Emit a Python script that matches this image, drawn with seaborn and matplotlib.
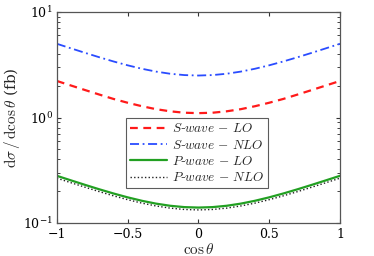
import numpy as np
import pandas as pd
import seaborn as sns
import matplotlib
matplotlib.use('Agg')
import matplotlib.pyplot as plt

# cos(theta) grid
cos_theta = [-1.0, -0.9, -0.8, -0.7, -0.6, -0.5, -0.4, -0.3, -0.2, -0.1, 0.0,
             0.1, 0.2, 0.3, 0.4, 0.5, 0.6, 0.7, 0.8, 0.9, 1.0]

s_lo = [2.22, 2.01, 1.82, 1.65, 1.50, 1.38, 1.28, 1.20, 1.145, 1.11, 1.10,
        1.11, 1.145, 1.20, 1.28, 1.38, 1.50, 1.65, 1.82, 2.01, 2.22]
s_nlo = [5.0, 4.525, 4.10, 3.725, 3.40, 3.125, 2.90, 2.725, 2.60, 2.525, 2.50,
         2.525, 2.60, 2.725, 2.90, 3.125, 3.40, 3.725, 4.10, 4.525, 5.0]
p_lo = [0.280, 0.2534, 0.2296, 0.2086, 0.1904, 0.175, 0.1624, 0.1526, 0.1456, 0.1414, 0.140,
        0.1414, 0.1456, 0.1526, 0.1624, 0.175, 0.1904, 0.2086, 0.2296, 0.2534, 0.280]
p_nlo = [0.266, 0.2407, 0.2181, 0.1982, 0.1809, 0.1663, 0.1543, 0.1450, 0.1383, 0.1343, 0.133,
         0.1343, 0.1383, 0.1450, 0.1543, 0.1663, 0.1809, 0.1982, 0.2181, 0.2407, 0.266]

labels = [r'$S$-$wave\,-\,LO$', r'$S$-$wave\,-\,NLO$',
          r'$P$-$wave\,-\,LO$', r'$P$-$wave\,-\,NLO$']

sns.set_style('ticks')
plt.rcParams.update({
    'font.family': ['DejaVu Serif'],
    'mathtext.fontset': 'cm',
    'xtick.direction': 'in',
    'ytick.direction': 'in',
    'xtick.top': True,
    'ytick.right': True,
    'axes.edgecolor': '#555555',
    'axes.linewidth': 0.9,
})

fig = plt.figure(figsize=(3.74, 2.56), dpi=100)
ax = fig.add_axes([0.152, 0.129, 0.757, 0.824])

styles = [
    dict(color='#ff1a1a', linestyle=(0, (3.5, 2.5)), lw=1.6),
    dict(color='#2a4cff', linestyle=(0, (5, 2, 1, 2)), lw=1.3),
    dict(color='#22a022', linestyle='-', lw=1.6),
    dict(color='#222222', linestyle=(0, (1, 1.6)), lw=1.0),
]
for vals, lab, st in zip([s_lo, s_nlo, p_lo, p_nlo], labels, styles):
    df = pd.DataFrame({'x': cos_theta, 'y': vals})
    sns.lineplot(data=df, x='x', y='y', ax=ax, label=lab, **st)

ax.set_yscale('log')
ax.set_xlim(-1, 1)
ax.set_ylim(0.1, 10)
ax.set_xticks([-1, -0.5, 0, 0.5, 1])
ax.set_xticklabels(['\u22121', '\u22120.5', '0', '0.5', '1'])
ax.tick_params(labelsize=9, length=3, colors='#333333', labelcolor='black', pad=3)
ax.tick_params(axis='x', pad=3.5)
ax.tick_params(which='minor', length=2)
ax.set_xlabel(r'$\cos\theta$', fontsize=11, labelpad=0.5)
ax.set_ylabel(r'$\mathrm{d}\sigma\,/\,\mathrm{d}\cos\theta$ (fb)', fontsize=11, labelpad=1)

leg = ax.legend(loc='center', bbox_to_anchor=(0.495, 0.33), fontsize=9.5,
                frameon=True, fancybox=False, edgecolor='#333333',
                handlelength=2.8, handletextpad=0.4, borderpad=0.3,
                labelspacing=0.25)
leg.get_frame().set_linewidth(0.8)

fig.savefig('out.png', dpi=100)
